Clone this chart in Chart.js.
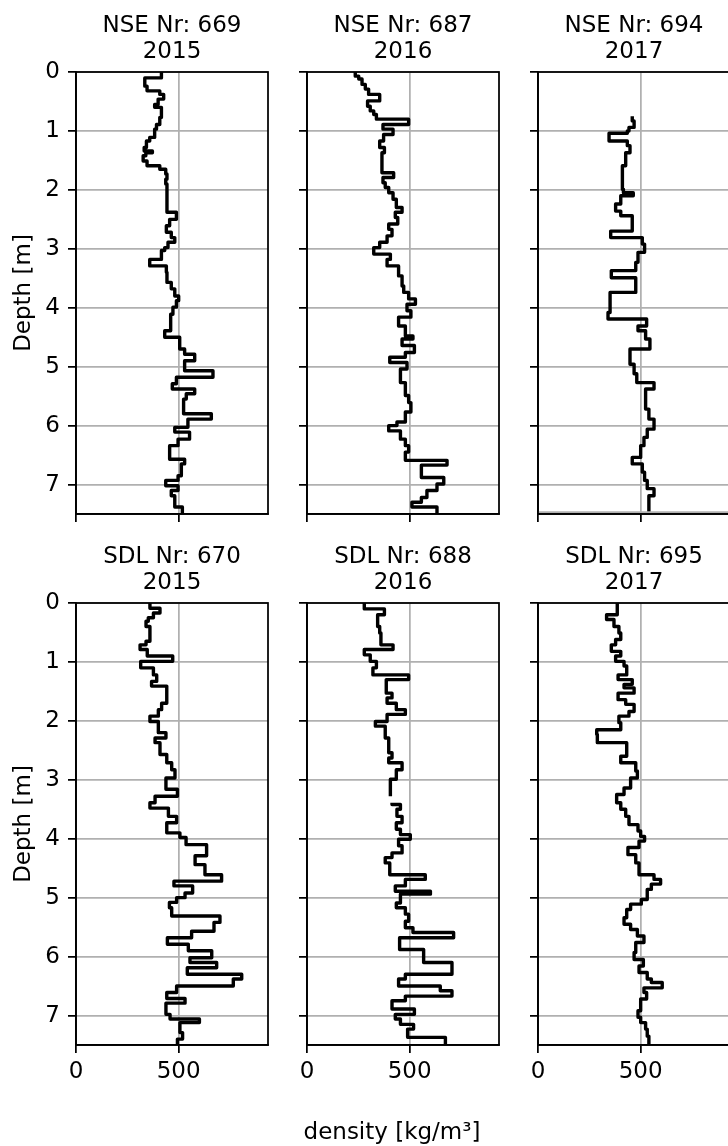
<!DOCTYPE html>
<html>
<head>
<meta charset="utf-8">
<script src="https://cdn.jsdelivr.net/npm/chart.js@4.4.1/dist/chart.umd.min.js"></script>
<style>
  html, body { margin: 0; padding: 0; background: #fff; overflow: hidden; }
  body { width: 728px; height: 1146px; position: relative; }
  canvas { position: absolute; }
</style>
</head>
<body>
<script>
// [top depth of layer (m), density (kg/m3)]
const nse669 = [[0, 416], [0.10, 335], [0.24, 346], [0.32, 408], [0.38, 427], [0.46, 400], [0.55, 383], [0.60, 416], [0.77, 408], [0.89, 392], [0.97, 383], [1.11, 359], [1.17, 343], [1.28, 332], [1.34, 372], [1.37, 340], [1.42, 327], [1.51, 346], [1.59, 408], [1.65, 437], [1.73, 443], [1.82, 437], [1.90, 443], [2.38, 489], [2.50, 456], [2.61, 440], [2.72, 464], [2.81, 481], [2.89, 448], [2.98, 432], [3.03, 416], [3.18, 359], [3.29, 440], [3.40, 443], [3.57, 464], [3.68, 481], [3.80, 500], [3.88, 489], [3.99, 472], [4.11, 461], [4.39, 432], [4.50, 505], [4.70, 529], [4.79, 578], [4.90, 529], [5.07, 667], [5.18, 489], [5.29, 469], [5.38, 578], [5.46, 537], [5.55, 524], [5.80, 659], [5.89, 545], [6.03, 481], [6.11, 553], [6.23, 497], [6.34, 456], [6.57, 529], [6.65, 513], [6.85, 497], [6.93, 437], [7.02, 497], [7.10, 464], [7.19, 481], [7.38, 518]];
const nse687 = [[0, 235], [0.07, 252], [0.12, 268], [0.21, 284], [0.29, 300], [0.38, 354], [0.49, 295], [0.58, 308], [0.66, 325], [0.72, 338], [0.80, 495], [0.89, 370], [0.97, 419], [1.06, 373], [1.17, 354], [1.28, 377], [1.37, 365], [1.71, 422], [1.79, 370], [1.88, 381], [1.96, 398], [2.05, 419], [2.16, 435], [2.30, 463], [2.38, 430], [2.47, 442], [2.58, 398], [2.67, 414], [2.78, 390], [2.89, 354], [2.98, 325], [3.09, 406], [3.18, 390], [3.29, 446], [3.46, 463], [3.63, 471], [3.74, 495], [3.85, 528], [3.94, 487], [4.05, 506], [4.16, 446], [4.31, 479], [4.48, 516], [4.53, 463], [4.64, 523], [4.76, 479], [4.84, 403], [4.93, 487], [5.04, 455], [5.27, 479], [5.49, 495], [5.61, 506], [5.77, 479], [5.94, 438], [6.00, 398], [6.09, 455], [6.23, 479], [6.34, 495], [6.45, 479], [6.59, 682], [6.67, 557], [6.88, 666], [6.99, 633], [7.10, 584], [7.22, 557], [7.30, 511], [7.38, 633]];
const nse694 = [[0.75, 459], [0.83, 468], [0.94, 443], [1.00, 435], [1.04, 346], [1.17, 435], [1.25, 448], [1.37, 427], [1.59, 411], [1.99, 416], [2.05, 464], [2.10, 403], [2.24, 378], [2.36, 403], [2.44, 459], [2.70, 354], [2.81, 508], [2.92, 519], [3.06, 487], [3.23, 476], [3.37, 357], [3.49, 476], [3.74, 351], [4.08, 341], [4.19, 529], [4.31, 487], [4.39, 524], [4.53, 545], [4.70, 448], [4.96, 468], [5.12, 481], [5.27, 565], [5.38, 524], [5.72, 540], [5.89, 565], [6.06, 532], [6.20, 516], [6.34, 500], [6.54, 459], [6.65, 508], [6.79, 519], [6.93, 532], [7.07, 565], [7.19, 540]];
const sdl670 = [[0, 360], [0.09, 409], [0.17, 377], [0.25, 352], [0.31, 341], [0.40, 360], [0.65, 341], [0.71, 312], [0.79, 347], [0.90, 471], [0.99, 315], [1.10, 377], [1.22, 393], [1.33, 368], [1.41, 442], [1.70, 417], [1.81, 401], [1.92, 360], [2.01, 401], [2.20, 438], [2.29, 385], [2.37, 409], [2.57, 442], [2.71, 466], [2.83, 482], [2.97, 438], [3.16, 494], [3.28, 385], [3.39, 360], [3.48, 450], [3.62, 490], [3.73, 442], [3.90, 506], [3.98, 536], [4.10, 636], [4.29, 580], [4.44, 628], [4.61, 709], [4.72, 477], [4.80, 568], [4.92, 531], [5.00, 490], [5.08, 455], [5.17, 466], [5.31, 701], [5.42, 672], [5.57, 563], [5.68, 445], [5.79, 547], [5.90, 661], [6.02, 555], [6.10, 685], [6.19, 542], [6.30, 807], [6.38, 766], [6.50, 490], [6.61, 442], [6.71, 531], [6.79, 438], [6.98, 458], [7.06, 601], [7.12, 506], [7.29, 519], [7.40, 494]];
const sdl688 = [[0, 279], [0.10, 377], [0.20, 344], [0.40, 354], [0.51, 360], [0.71, 419], [0.79, 279], [0.88, 308], [0.99, 338], [1.10, 321], [1.22, 495], [1.30, 386], [1.53, 414], [1.61, 390], [1.70, 435], [1.81, 479], [1.89, 390], [2.01, 333], [2.09, 381], [2.29, 398], [2.54, 414], [2.63, 398], [2.71, 463], [2.83, 435], [2.99, 406], [3.28, 406], [3.30, null], [3.39, 414], [3.42, 455], [3.50, 438], [3.62, 463], [3.73, 435], [3.84, 455], [3.93, 503], [4.01, 446], [4.12, 463], [4.24, 414], [4.32, 381], [4.41, 403], [4.61, 576], [4.69, 479], [4.80, 430], [4.89, 601], [4.94, 455], [5.09, 435], [5.17, 479], [5.28, 495], [5.40, 479], [5.51, 516], [5.59, 714], [5.68, 451], [5.88, 568], [6.10, 706], [6.30, 479], [6.38, 446], [6.50, 649], [6.58, 706], [6.67, 479], [6.75, 414], [6.89, 523], [6.98, 430], [7.06, 455], [7.15, 519], [7.23, 490], [7.37, 674]];
const sdl695 = [[0, 386], [0.20, 334], [0.28, 370], [0.40, 394], [0.51, 403], [0.62, 378], [0.71, 357], [0.82, 403], [0.90, 378], [0.99, 419], [1.07, 432], [1.22, 390], [1.30, 459], [1.38, 419], [1.44, 468], [1.53, 390], [1.64, 427], [1.72, 468], [1.84, 443], [1.92, 394], [2.03, 403], [2.15, 286], [2.23, 289], [2.37, 432], [2.60, 403], [2.71, 476], [2.85, 484], [2.97, 451], [3.14, 419], [3.25, 383], [3.39, 403], [3.50, 427], [3.62, 443], [3.76, 487], [3.87, 500], [3.96, 519], [4.04, 492], [4.15, 438], [4.27, 476], [4.41, 492], [4.61, 565], [4.69, 597], [4.77, 552], [4.86, 532], [5.03, 503], [5.11, 451], [5.20, 432], [5.34, 419], [5.45, 451], [5.54, 484], [5.65, 516], [5.76, 476], [5.93, 468], [6.05, 513], [6.16, 492], [6.27, 532], [6.38, 552], [6.44, 605], [6.53, 516], [6.61, 529], [6.72, 500], [6.92, 487], [7.03, 500], [7.12, 524], [7.23, 532], [7.35, 540]];
// faint grey line just above the bottom of the NSE 694 panel
const nse694Base = [[7.47, 0], [7.47, 935]];

const profiles = [nse669, nse687, nse694, sdl670, sdl688, sdl695];
const siteLabels = ["NSE Nr: 669", "NSE Nr: 687", "NSE Nr: 694", "SDL Nr: 670", "SDL Nr: 688", "SDL Nr: 695"];
const years = ["2015", "2016", "2017", "2015", "2016", "2017"];
const xTicks = [0, 500];
const yTicks = [0, 1, 2, 3, 4, 5, 6, 7];
const densityMax = 935;
const depthMax = 7.5;

const colLefts = [76, 307, 538];
const rowTops = [72, 603];
const padLeft = 76, padTop = 72, padRight = 6, padBottom = 101;
const plotW = 192, plotH = 442;
const fontPx = 23;

Chart.defaults.font.family = "'DejaVu Sans', sans-serif";
Chart.defaults.font.size = fontPx;
Chart.defaults.color = "#000";
Chart.defaults.animation = false;

const panelDecor = {
  id: "panelDecor",
  afterDatasetsDraw(chart, args, opts) {
    const { ctx, chartArea: a } = chart;
    ctx.save();
    ctx.strokeStyle = "#000";
    ctx.lineWidth = 1.75;
    ctx.strokeRect(a.left, a.top, a.right - a.left, a.bottom - a.top);

    ctx.fillStyle = "#000";
    ctx.font = fontPx + "px 'DejaVu Sans'";
    ctx.textAlign = "center";
    ctx.textBaseline = "alphabetic";
    const cx = (a.left + a.right) / 2;
    ctx.fillText(opts.title[0], cx, a.top - 40);
    ctx.fillText(opts.title[1], cx, a.top - 14);

    if (opts.yLabel) {
      ctx.save();
      ctx.translate(a.left - 46, (a.top + a.bottom) / 2);
      ctx.rotate(-Math.PI / 2);
      ctx.fillText("Depth [m]", 0, 0);
      ctx.restore();
    }
    if (opts.xLabel) {
      ctx.fillText("density [kg/m³]", a.left + 85, a.bottom + 94);
    }
    ctx.restore();
  },
};

function axisGrid() {
  return {
    color: "#b0b0b0",
    lineWidth: 1.75,
    tickLength: 8,
    tickColor: "#000",
    tickWidth: 1.75,
  };
}

function makePanel(i) {
  const col = i % 3;
  const row = Math.floor(i / 3);

  const canvas = document.createElement("canvas");
  canvas.width = padLeft + plotW + padRight;
  canvas.height = padTop + plotH + padBottom;
  canvas.style.left = colLefts[col] - padLeft + "px";
  canvas.style.top = rowTops[row] - padTop + "px";
  document.body.appendChild(canvas);

  const rows = profiles[i];
  const points = rows.map(([z, d]) => ({ x: d, y: z }));
  // close the last layer at the bottom of the profile
  points.push({ x: rows[rows.length - 1][1], y: depthMax });

  const datasets = [];
  if (i === 2) {
    datasets.push({
      data: nse694Base.map(([z, d]) => ({ x: d, y: z })),
      borderColor: "#b0b0b0",
      borderWidth: 2,
      pointRadius: 0,
    });
  }
  datasets.push({
    data: points,
    stepped: "after",
    borderColor: "#000",
    borderWidth: 3.4,
    borderJoinStyle: "round",
    pointRadius: 0,
    fill: false,
  });

  new Chart(canvas, {
    type: "line",
    data: { datasets },
    options: {
      responsive: false,
      devicePixelRatio: 1,
      indexAxis: "y",
      layout: { padding: { top: padTop, right: padRight, left: 0, bottom: 0 } },
      scales: {
        x: {
          type: "linear",
          position: "bottom",
          min: 0,
          max: densityMax,
          afterBuildTicks: (s) => { s.ticks = xTicks.map((v) => ({ value: v })); },
          afterFit: (s) => { s.height = padBottom; },
          ticks: { display: row === 1, padding: 5, maxRotation: 0 },
          grid: axisGrid(),
          border: { color: "#000", width: 1.75 },
        },
        y: {
          type: "linear",
          position: "left",
          reverse: true,
          min: 0,
          max: depthMax,
          afterBuildTicks: (s) => { s.ticks = yTicks.map((v) => ({ value: v })); },
          afterFit: (s) => { s.width = padLeft; },
          ticks: { display: col === 0, padding: 8 },
          grid: axisGrid(),
          border: { color: "#000", width: 1.75 },
        },
      },
      plugins: {
        legend: { display: false },
        tooltip: { enabled: false },
        panelDecor: {
          title: [siteLabels[i], years[i]],
          yLabel: col === 0,
          xLabel: i === 4,
        },
      },
    },
    plugins: [panelDecor],
  });
}

for (let i = 0; i < profiles.length; i++) {
  makePanel(i);
}
</script>
</body>
</html>
